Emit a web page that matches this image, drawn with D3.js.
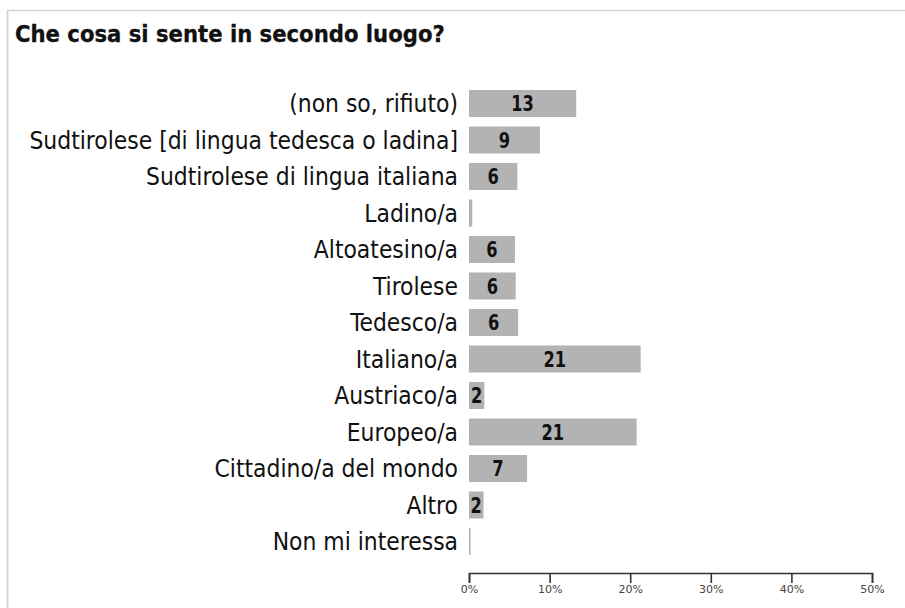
<!DOCTYPE html>
<html>
<head>
<meta charset="utf-8">
<script src="https://cdn.jsdelivr.net/npm/d3@7"></script>
<style>
  html, body { margin: 0; padding: 0; background: #ffffff; }
  svg { display: block; }
</style>
</head>
<body>
<svg id="chart" width="905" height="608"></svg>
<script>
// Survey answers: "what do you feel yourself second?" (percent of respondents)
const categories = [
  "(non so, rifiuto)",
  "Sudtirolese [di lingua tedesca o ladina]",
  "Sudtirolese di lingua italiana",
  "Ladino/a",
  "Altoatesino/a",
  "Tirolese",
  "Tedesco/a",
  "Italiano/a",
  "Austriaco/a",
  "Europeo/a",
  "Cittadino/a del mondo",
  "Altro",
  "Non mi interessa"
];
const values = [13.3, 8.8, 6.0, 0.4, 5.7, 5.8, 6.1, 21.3, 1.9, 20.8, 7.2, 1.8, 0.2];
const xTicks = [0, 10, 20, 30, 40, 50];
const title = "Che cosa si sente in secondo luogo?";

const narrow = "'Liberation Sans Narrow', 'DejaVu Sans Condensed', 'Roboto Condensed', Roboto, sans-serif";

const svg = d3.select("#chart");

// frame lines (top and left)
svg.append("line").attr("x1", 7).attr("x2", 905).attr("y1", 10.5).attr("y2", 10.5)
  .attr("stroke", "#d6d6d6").attr("stroke-width", 1.5);
svg.append("line").attr("x1", 7.5).attr("x2", 7.5).attr("y1", 10).attr("y2", 608)
  .attr("stroke", "#d6d6d6").attr("stroke-width", 2);

const x = d3.scaleLinear().domain([0, 50]).range([469, 872]);
const y = d3.scaleBand().domain(categories).range([85.25, 559.75])
  .paddingInner(0.26).paddingOuter(0.13);

// title, squeezed horizontally to its line length
const tg = svg.append("g");
const tt = tg.append("text")
  .attr("font-family", narrow).attr("font-weight", "bold")
  .attr("font-size", 23).attr("fill", "#111")
  .attr("stroke", "#111").attr("stroke-width", 0.3)
  .text(title);
const tw = tt.node().getComputedTextLength();
tg.attr("transform", `translate(15,42) scale(${tw > 0 ? 430 / tw : 1},1)`);

// bars
svg.append("g").selectAll("rect")
  .data(values)
  .join("rect")
  .attr("x", x(0))
  .attr("y", (d, i) => y(categories[i]))
  .attr("width", d => x(d) - x(0))
  .attr("height", y.bandwidth())
  .attr("fill", "#b3b3b3");

// value labels (rounded), centred in the bar
svg.append("g").selectAll("g")
  .data(values.map((v, i) => ({ v, c: categories[i] })).filter(d => Math.round(d.v) > 0))
  .join("g")
  .attr("transform", d => `translate(${(x(0) + x(d.v)) / 2},${y(d.c) + y.bandwidth() / 2 + 7.5}) scale(0.86,1)`)
  .append("text")
  .attr("text-anchor", "middle")
  .attr("font-family", narrow).attr("font-weight", "bold")
  .attr("font-size", 21).attr("fill", "#111")
  .text(d => Math.round(d.v));

// category labels, right-aligned next to the bars
const lg = svg.append("g").selectAll("g")
  .data(categories)
  .join("g");
const lt = lg.append("text")
  .attr("text-anchor", "end")
  .attr("font-family", narrow)
  .attr("font-size", 24).attr("fill", "#111")
  .text(d => d);
let sumW = 0;
lt.each(function () { sumW += this.getComputedTextLength(); });
const lsx = sumW > 0 ? 2159 / sumW : 1;
lg.attr("transform", d => `translate(458,${y(d) + y.bandwidth() / 2 + 8.5}) scale(${lsx},1)`);

// x axis
const axis = svg.append("g")
  .attr("transform", "translate(0,573)")
  .call(d3.axisBottom(x).tickValues(xTicks).tickFormat(d => d + "%")
    .tickSizeInner(10).tickSizeOuter(10).tickPadding(2));
axis.select(".domain").attr("stroke", "#333").attr("stroke-width", 1.6);
axis.selectAll(".tick line").attr("stroke", "#333").attr("stroke-width", 1.6);
axis.selectAll(".tick text")
  .attr("font-family", "'DejaVu Sans', sans-serif")
  .attr("font-size", 11).attr("fill", "#444");
</script>
</body>
</html>
